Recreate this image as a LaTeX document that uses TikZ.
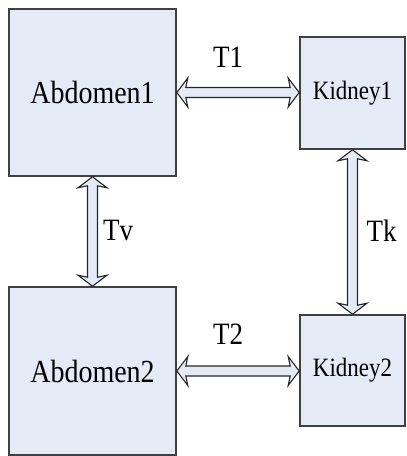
\documentclass[tikz,border=0pt]{standalone}
\usepackage{fontspec}
\usepackage{graphicx}
\setmainfont{Liberation Serif}
\usetikzlibrary{calc}
\definecolor{boxfill}{RGB}{228,234,246}
\definecolor{boxline}{RGB}{64,64,64}
\newcommand\tallText[1]{\scalebox{1}[1.15]{#1}}

\begin{document}
\begin{tikzpicture}[x=1pt,y=-1pt,
  organ/.style={draw=boxline,line width=1.6pt,fill=boxfill,inner sep=0pt},
  big/.style={font=\fontsize{28}{30}\selectfont},
  small/.style={font=\fontsize{23}{25}\selectfont},
  lbl/.style={font=\fontsize{27}{29}\selectfont},
  dblarrow/.style={draw=black!85,line width=1.1pt,fill=boxfill,line join=miter,
    to path={-- ($(\tikztostart)!11pt!(\tikztotarget)!14.5pt!90:(\tikztotarget)$)
      -- ($(\tikztostart)!9pt!(\tikztotarget)!5pt!90:(\tikztotarget)$)
      -- ($(\tikztotarget)!9pt!(\tikztostart)!5pt!-90:(\tikztostart)$)
      -- ($(\tikztotarget)!11pt!(\tikztostart)!14.5pt!-90:(\tikztostart)$)
      -- (\tikztotarget)
      -- ($(\tikztotarget)!11pt!(\tikztostart)!14.5pt!90:(\tikztostart)$)
      -- ($(\tikztotarget)!9pt!(\tikztostart)!5pt!90:(\tikztostart)$)
      -- ($(\tikztostart)!9pt!(\tikztotarget)!5pt!-90:(\tikztotarget)$)
      -- ($(\tikztostart)!11pt!(\tikztotarget)!14.5pt!-90:(\tikztotarget)$)
      -- cycle}}]
\useasboundingbox (0,0) rectangle (407,456);
\node[organ,big,minimum width=167pt,minimum height=167pt] (abd1) at (92.5,92.5) {\tallText{Abdomen1}};
\node[organ,big,minimum width=167pt,minimum height=168pt] (abd2) at (92.5,371) {\tallText{Abdomen2}};
\node[organ,small,minimum width=105pt,minimum height=112pt] (kid1) at (352.5,93) {\tallText{Kidney1}};
\node[organ,small,minimum width=105pt,minimum height=111pt] (kid2) at (352.5,370.5) {\tallText{Kidney2}};
\draw[dblarrow] (abd1.east) to (abd1.east -| kid1.west);
\draw[dblarrow] (abd2.east) to (abd2.east -| kid2.west);
\draw[dblarrow] (abd1.south) to (abd2.north);
\draw[dblarrow] (kid1.south) to (kid2.north);
\node[lbl] (t1) at (228,57) {\tallText{T1}};
\node[lbl] (t2) at (228,334) {\tallText{T2}};
\node[lbl] (tv) at (118,230) {\tallText{Tv}};
\node[lbl] (tk) at (381.5,231) {\tallText{Tk}};
\end{tikzpicture}
\end{document}
